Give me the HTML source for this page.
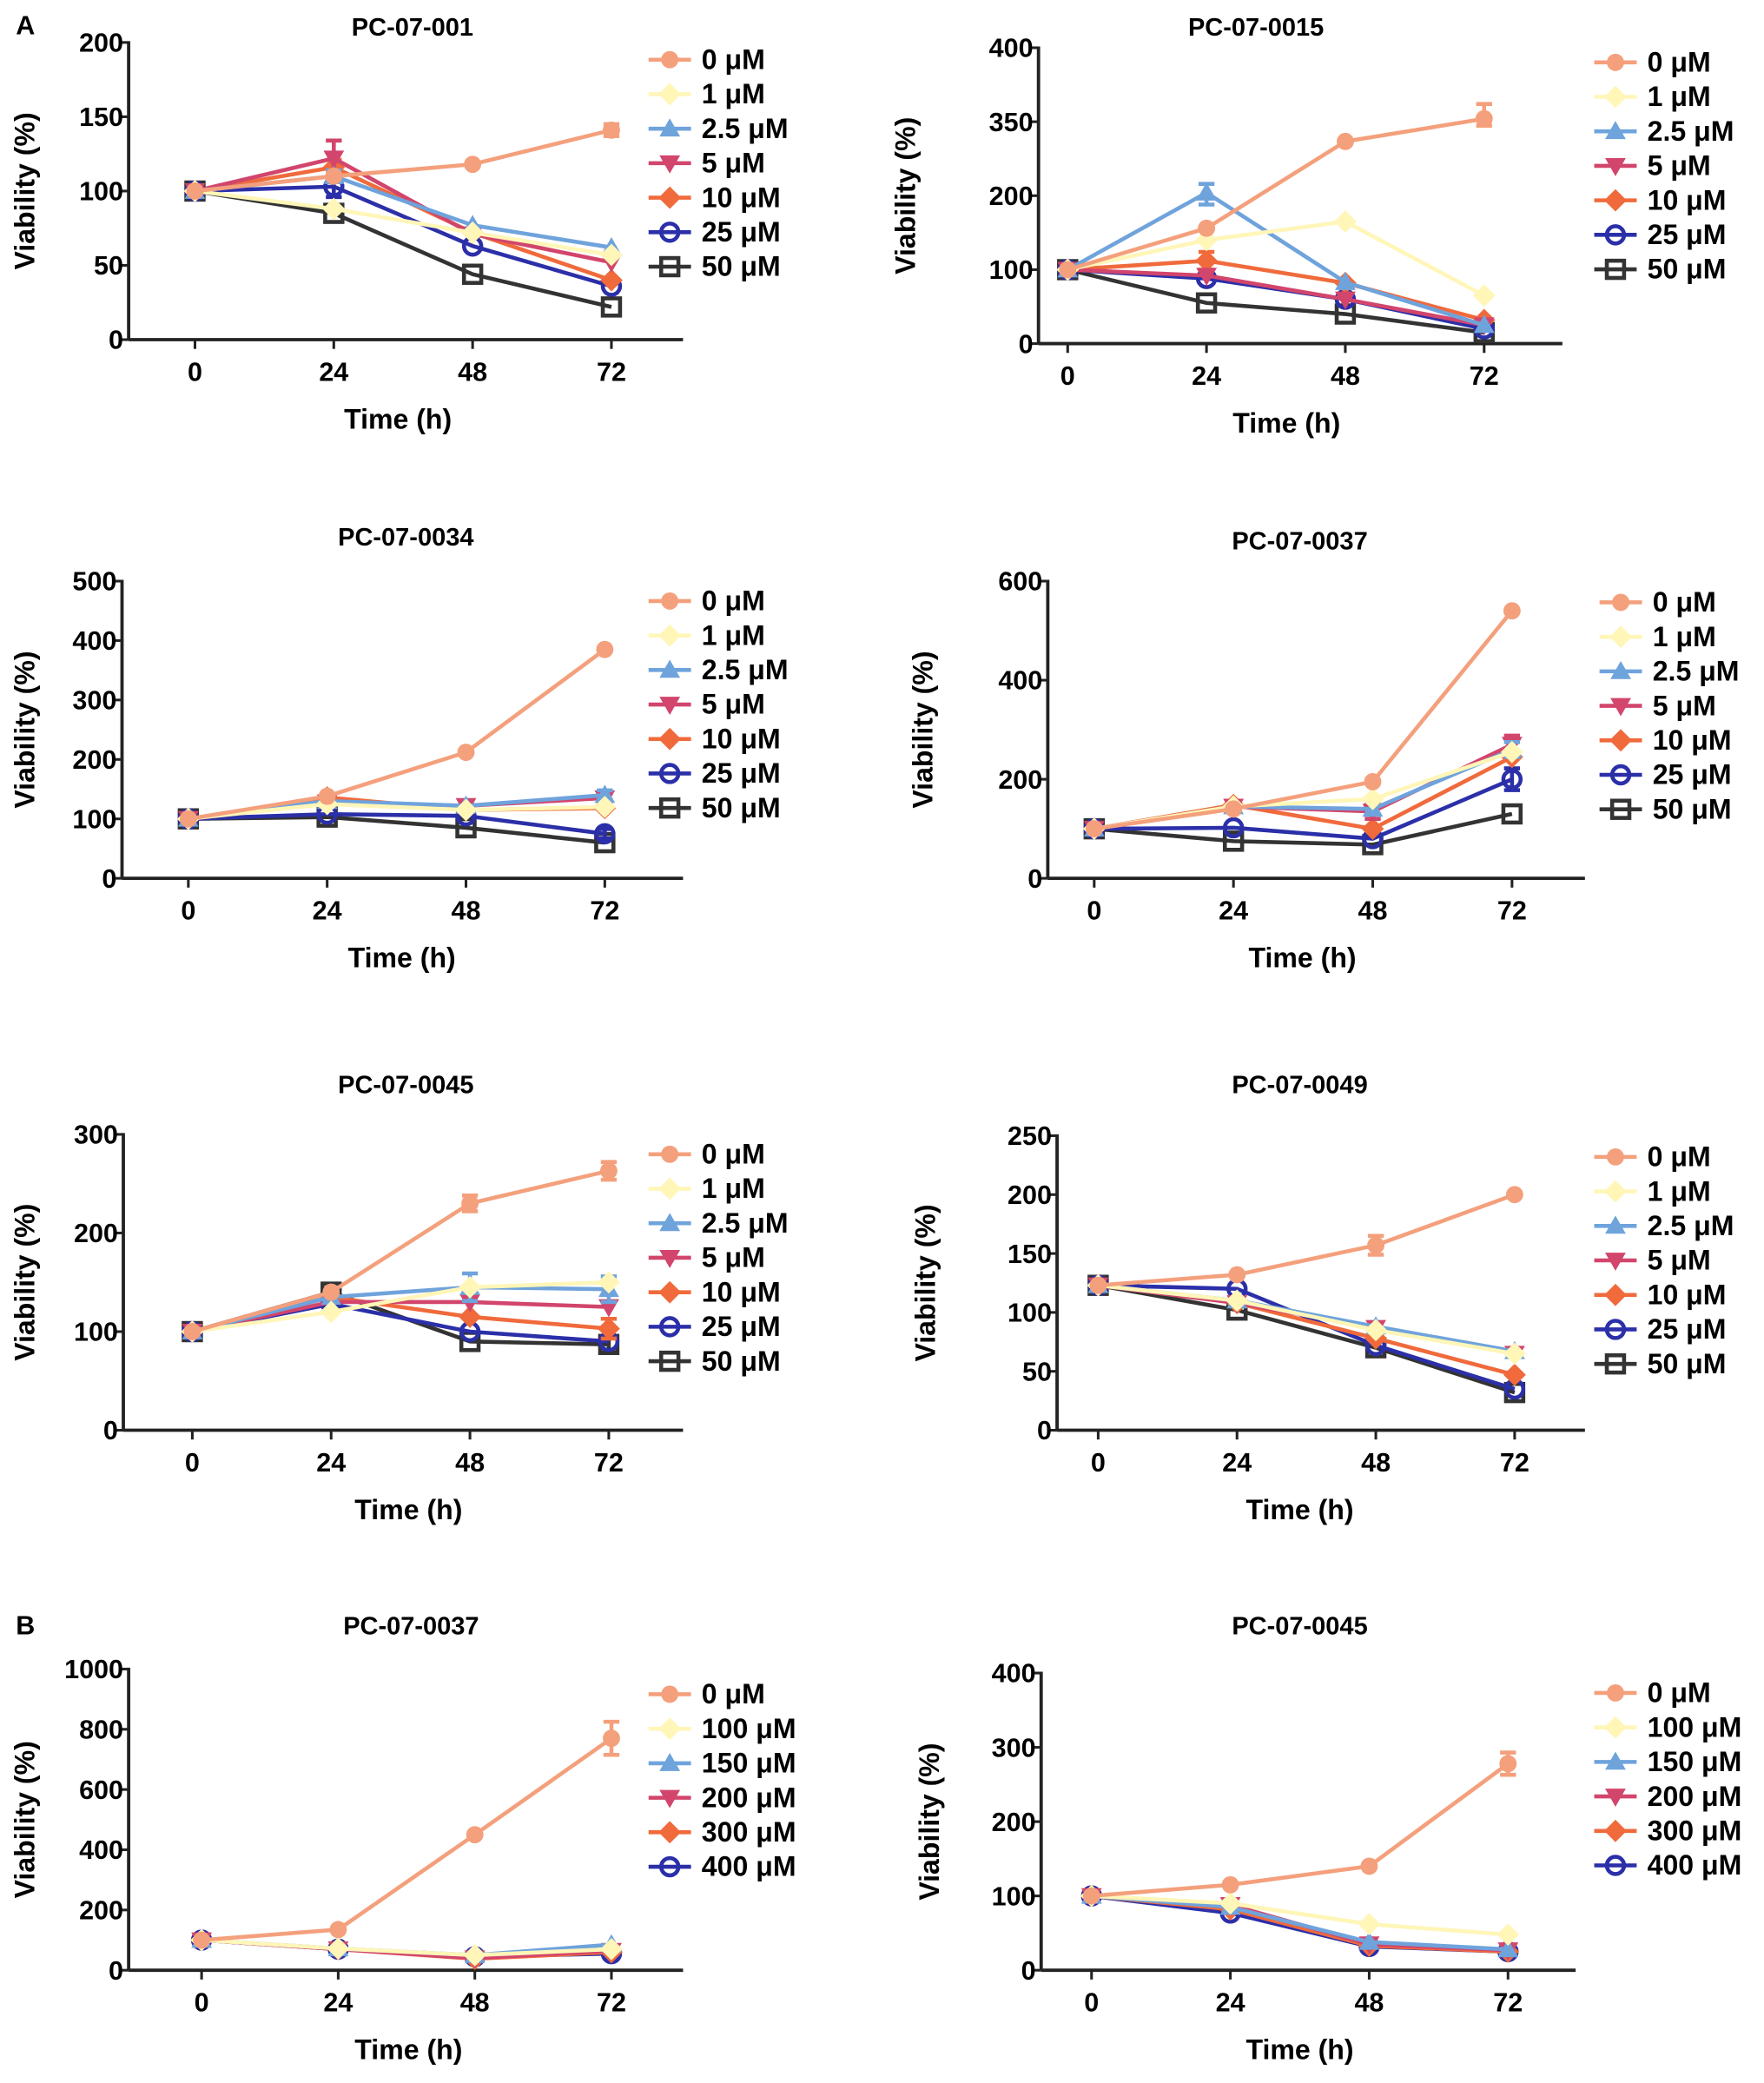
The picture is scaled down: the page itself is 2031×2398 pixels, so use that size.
<!DOCTYPE html>
<html><head><meta charset="utf-8"><style>
html,body{margin:0;padding:0;background:#fff;}
svg{display:block;font-family:"Liberation Sans Narrow","Liberation Sans",Arial,sans-serif;font-weight:bold;}
</style></head><body>
<svg id="fig" xmlns="http://www.w3.org/2000/svg" width="2031" height="2398" viewBox="0 0 1330 1570" preserveAspectRatio="none">
<text x="12" y="26" font-size="20">A</text>
<text x="12" y="1232" font-size="20">B</text>
</svg>
<script>
// ---- data ----
const timeCats = [0, 24, 48, 72];
const labelsA = ["0 μM","1 μM","2.5 μM","5 μM","10 μM","25 μM","50 μM"];
const labelsB = ["0 μM","100 μM","150 μM","200 μM","300 μM","400 μM"];
const ticks001 = [0,50,100,150,200];
const ticks0015 = [0,100,200,350,400];
const ticks0034 = [0,100,200,300,400,500];
const ticks0037 = [0,200,400,600];
const ticks0045 = [0,100,200,300];
const ticks0049 = [0,50,100,150,200,250];
const ticksB37 = [0,200,400,600,800,1000];
const ticksB45 = [0,100,200,300,400];
const vals001 = [[100,110,118,141],[100,88,72,57],[100,110,77,62],[100,122,71,52],[100,116,72,40],[100,103,63,36],[100,85,44,22]];
const err001 = [[0,0,0,4],[0,0,0,0],[0,4,0,0],[0,12,0,0],[0,5,0,0],[0,7,0,0],[0,0,0,0]];
const vals0015 = [[100,156,310,352],[100,140,165,65],[100,206,83,25],[100,92,60,25],[100,112,82,32],[100,88,60,20],[100,55,40,15]];
const err0015 = [[0,0,0,10],[0,0,0,0],[0,18,0,0],[0,0,0,0],[0,12,0,0],[0,0,0,0],[0,0,0,0]];
const vals0034 = [[100,138,212,385],[100,125,115,120],[100,130,122,140],[100,128,122,135],[100,136,115,118],[100,108,105,75],[100,103,85,60]];
const err0034 = [[0,0,0,0],[0,0,0,0],[0,0,0,8],[0,0,8,8],[0,0,0,0],[0,0,0,8],[0,0,0,0]];
const vals0037 = [[100,140,195,540],[100,145,160,255],[100,145,140,260],[100,145,135,270],[100,148,100,245],[100,102,80,200],[100,75,68,130]];
const err0037 = [[0,0,0,0],[0,0,0,0],[0,0,0,15],[0,0,15,18],[0,0,0,0],[0,0,0,22],[0,0,0,0]];
const vals0045 = [[100,140,230,263],[100,120,145,150],[100,135,145,143],[100,130,130,125],[100,135,115,103],[100,128,100,90],[100,140,90,87]];
const err0045 = [[0,0,8,9],[0,0,0,0],[0,0,14,13],[0,0,0,0],[0,0,0,10],[0,0,0,0],[0,0,0,8]];
const vals0049 = [[123,132,157,200],[123,110,85,65],[123,110,88,67],[123,108,87,65],[123,108,78,47],[123,120,72,35],[123,102,70,32]];
const err0049 = [[0,0,8,0],[0,0,0,0],[0,0,0,0],[0,0,0,0],[0,0,0,0],[0,0,0,0],[0,0,0,0]];
const valsB37 = [[100,135,450,770],[100,72,50,70],[100,72,50,85],[100,70,40,65],[100,70,38,60],[100,70,45,55]];
const errB37 = [[0,0,0,55],[0,0,0,0],[0,0,0,0],[0,0,0,0],[0,0,0,0],[0,0,0,0]];
const valsB45 = [[100,115,140,278],[100,90,62,48],[100,85,38,28],[100,88,35,27],[100,82,33,25],[100,77,32,25]];
const errB45 = [[0,0,0,15],[0,0,0,0],[0,0,0,0],[0,0,0,0],[0,0,0,0],[0,0,0,0]];

const colA = ["#f4a07c","#fff6b8","#6fa3dc","#d2456c","#f06a3c","#2b2fa8","#333333"];
const mkA = ["circle","diamond","tri","tridown","diamondf","ocircle","osquare"];
const colB = ["#f4a07c","#fff6b8","#6fa3dc","#d2456c","#f06a3c","#2b2fa8"];
const mkB = ["circle","diamond","tri","tridown","diamondf","ocircle"];

const NS = "http://www.w3.org/2000/svg";
const svg = document.getElementById("fig");
function el(tag, attrs, parent, txt){
  const e = document.createElementNS(NS, tag);
  for (const k in attrs) e.setAttribute(k, attrs[k]);
  if (txt !== undefined) e.textContent = txt;
  (parent||svg).appendChild(e);
  return e;
}
function marker(g, type, cx, cy, c, s){
  let m;
  if (type==="circle") m = el("circle",{cx,cy,r:s,fill:c},g);
  else if (type==="diamond"||type==="diamondf") m = el("polygon",{points:`${cx},${cy-s*1.3} ${cx+s*1.3},${cy} ${cx},${cy+s*1.3} ${cx-s*1.3},${cy}`,fill:c},g);
  else if (type==="tri") m = el("polygon",{points:`${cx},${cy-s*1.2} ${cx+s*1.2},${cy+s*0.9} ${cx-s*1.2},${cy+s*0.9}`,fill:c},g);
  else if (type==="tridown") m = el("polygon",{points:`${cx},${cy+s*1.2} ${cx+s*1.2},${cy-s*0.9} ${cx-s*1.2},${cy-s*0.9}`,fill:c},g);
  else if (type==="ocircle") m = el("circle",{cx,cy,r:s,fill:"none",stroke:c,"stroke-width":3},g);
  else m = el("rect",{x:cx-s,y:cy-s,width:2*s,height:2*s,fill:"none",stroke:c,"stroke-width":3},g);
  
  
}
function panel(o){
  const g = el("g",{});
  
  
  const n = o.ticks.length-1;
  const ys = v => {
    for (let i=0;i<n;i++){
      if (v<=o.ticks[i+1] || i===n-1){
        const f=(v-o.ticks[i])/(o.ticks[i+1]-o.ticks[i]);
        return o.y0 - (i+f)*(o.y0-o.yt)/n;
      }
    }
  };
  const xs = t => o.x0 + (t/72)*(o.x72-o.x0);
  const t = el("text",{x:o.tx,y:o.ty,"font-size":19,"text-anchor":"middle"},g,o.title);
   
  const ya = el("line",{x1:o.ax,y1:o.yt-1,x2:o.ax,y2:o.y0,stroke:"#222","stroke-width":2.5},g);
   
  const xa = el("line",{x1:o.ax,y1:o.y0,x2:o.xend,y2:o.y0,stroke:"#222","stroke-width":2.5},g);
   
  o.ticks.forEach(v=>{
    const y=ys(v);
    el("line",{x1:o.ax-5,y1:y,x2:o.ax,y2:y,stroke:"#222","stroke-width":2},g);
    const tl = el("text",{x:o.ax-4,y:y+7,"font-size":20,"text-anchor":"end"},g,String(v));
     
  });
  timeCats.forEach(c=>{
    const x=xs(c);
    el("line",{x1:x,y1:o.y0,x2:x,y2:o.y0+7,stroke:"#222","stroke-width":2},g);
    const tl = el("text",{x:x,y:o.y0+31,"font-size":20,"text-anchor":"middle"},g,String(c));
     
  });
  const xl = el("text",{x:o.xlx,y:o.y0+67,"font-size":21,"text-anchor":"middle"},g,"Time (h)");
   
  const ylc=(o.yt+o.y0)/2;
  const yl = el("text",{x:0,y:0,"font-size":21,"text-anchor":"middle",transform:`translate(${o.ylx},${ylc}) rotate(-90)`},g,"Viability (%)");
   
  for (let s=o.vals.length-1; s>=0; s--){
    const sg = el("g",{},g);
    
    
    const pts = o.vals[s].map((v,i)=>xs(timeCats[i])+","+ys(v)).join(" ");
    const pl = el("polyline",{points:pts,fill:"none",stroke:o.cols[s],"stroke-width":3},sg);
     
    o.vals[s].forEach((v,i)=>{
      const x=xs(timeCats[i]), e=o.errs[s][i];
      if (e>0){
        const y1=ys(v+e), y2=ys(v-e);
        el("path",{d:`M${x},${y1}V${y2}M${x-6},${y1}H${x+6}M${x-6},${y2}H${x+6}`,stroke:o.cols[s],"stroke-width":3,fill:"none"},sg);
      }
      marker(sg,o.mks[s],x,ys(v),o.cols[s],6.5);
    });
  }
  o.labels.forEach((lab,i)=>{
    const y=o.ly+i*o.lstep;
    const lg = el("g",{},g);
    
    
    el("line",{x1:o.lx-16,y1:y,x2:o.lx+16,y2:y,stroke:o.cols[i],"stroke-width":3},lg);
    marker(lg,o.mks[i],o.lx,y,o.cols[i],6.5);
    el("text",{x:o.lx+24,y:y+7,"font-size":21},lg,lab);
  });
}
panel({name:"chart-pc-07-001",title:"PC-07-001",tx:311,ty:27,ax:97,yt:32,y0:256,xend:515,x0:147,x72:461,ticks:ticks001,vals:vals001,errs:err001,labels:labelsA,cols:colA,mks:mkA,lx:505,ly:45,lstep:26,xlx:300,ylx:26});
panel({name:"chart-pc-07-0015",title:"PC-07-0015",tx:947,ty:27,ax:783,yt:36,y0:259,xend:1178,x0:805,x72:1119,ticks:ticks0015,vals:vals0015,errs:err0015,labels:labelsA,cols:colA,mks:mkA,lx:1218,ly:47,lstep:26,xlx:970,ylx:690});
panel({name:"chart-pc-07-0034",title:"PC-07-0034",tx:306,ty:411,ax:92,yt:438,y0:662,xend:515,x0:142,x72:456,ticks:ticks0034,vals:vals0034,errs:err0034,labels:labelsA,cols:colA,mks:mkA,lx:505,ly:453,lstep:26,xlx:303,ylx:26});
panel({name:"chart-pc-07-0037",title:"PC-07-0037",tx:980,ty:414,ax:790,yt:438,y0:662,xend:1195,x0:825,x72:1140,ticks:ticks0037,vals:vals0037,errs:err0037,labels:labelsA,cols:colA,mks:mkA,lx:1222,ly:454,lstep:26,xlx:982,ylx:703});
panel({name:"chart-pc-07-0045",title:"PC-07-0045",tx:306,ty:824,ax:93,yt:855,y0:1078,xend:515,x0:145,x72:459,ticks:ticks0045,vals:vals0045,errs:err0045,labels:labelsA,cols:colA,mks:mkA,lx:505,ly:870,lstep:26,xlx:308,ylx:26});
panel({name:"chart-pc-07-0049",title:"PC-07-0049",tx:980,ty:824,ax:797,yt:856,y0:1078,xend:1195,x0:828,x72:1142,ticks:ticks0049,vals:vals0049,errs:err0049,labels:labelsA,cols:colA,mks:mkA,lx:1218,ly:872,lstep:26,xlx:980,ylx:705});
panel({name:"chart-b-pc-07-0037",title:"PC-07-0037",tx:310,ty:1232,ax:97,yt:1258,y0:1485,xend:515,x0:152,x72:461,ticks:ticksB37,vals:valsB37,errs:errB37,labels:labelsB,cols:colB,mks:mkB,lx:505,ly:1277,lstep:26,xlx:308,ylx:26});
panel({name:"chart-b-pc-07-0045",title:"PC-07-0045",tx:980,ty:1232,ax:785,yt:1261,y0:1485,xend:1188,x0:823,x72:1137,ticks:ticksB45,vals:valsB45,errs:errB45,labels:labelsB,cols:colB,mks:mkB,lx:1218,ly:1276,lstep:26,xlx:980,ylx:708});
</script>
</body></html>
